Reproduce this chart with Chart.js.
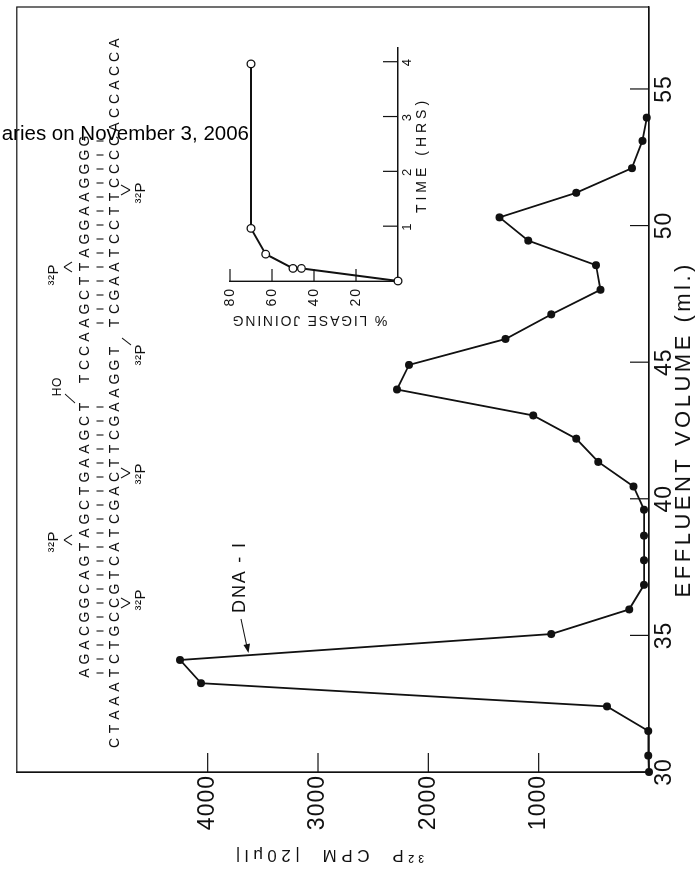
<!DOCTYPE html>
<html>
<head>
<meta charset="utf-8">
<script src="https://cdn.jsdelivr.net/npm/chart.js@4.4.0/dist/chart.umd.min.js"></script>
<style>
  html, body { margin: 0; padding: 0; background: #fff; }
  body { width: 698px; height: 873px; overflow: hidden; position: relative; }
  /* the whole figure is printed turned a quarter turn, so draw it upright and turn it */
  #turn { position: absolute; left: 0; top: 0; width: 873px; height: 698px;
          transform-origin: 0 0; transform: translate(0, 873px) rotate(-90deg); }
  #main { position: absolute; left: 0; top: 0; }
  #inset { position: absolute; left: 500px; top: 190px; }
  #stamp { position: absolute; top: 122.5px; right: 449px; white-space: nowrap;
           font: 20.5px/1 'Liberation Sans', Arial, sans-serif; color: #000; }
</style>
</head>
<body>
<div id="turn">
  <canvas id="main" width="873" height="698"></canvas>
  <canvas id="inset" width="340" height="260"></canvas>
</div>
<div id="stamp">aries on November 3, 2006</div>
<script>
// column profile
const volume = [30.0, 30.6, 31.5, 32.4, 33.25, 34.1, 35.05, 35.95, 36.85, 37.75, 38.65, 39.6,
                40.45, 41.35, 42.2, 43.05, 44.0, 44.9, 45.85, 46.75, 47.65, 48.55, 49.45, 50.3,
                51.2, 52.1, 53.1, 53.95];
const cpm = [0, 6, 6, 380, 4060, 4250, 885, 180, 45, 45, 45, 45,
             140, 460, 660, 1050, 2285, 2175, 1300, 885, 440, 480, 1095, 1355,
             660, 155, 60, 20];
const volumeTicks = [30, 35, 40, 45, 50, 55];
const cpmTicks = [1000, 2000, 3000, 4000];

// inset: ligase time course
const hours = [0, 0.23, 0.23, 0.49, 0.96, 3.96];
const joining = [0, 46, 50, 63, 70, 70];
const hourTicks = [1, 2, 3, 4];
const joiningTicks = [20, 40, 60, 80];

// duplex drawn over the plot
const topStrand = '     AGACGGCAGTAGCTGAAGCT TCCAAGCTTAGGAAGGGG';
const bottomStrand = 'CTAAATCTGCCGTCATCGACTTCGAAGGT TCGAATCCTTCCCCACCACCA';
const nick = [26, 27, 28];

const FONT = "'Liberation Sans', Arial, sans-serif";
Chart.defaults.font.family = FONT;
Chart.defaults.color = '#111';

function label(ctx, str, x, y, size, spacing, rot) {
  ctx.save();
  ctx.translate(x, y);
  if (rot) ctx.rotate(rot);
  ctx.font = size + 'px ' + FONT;
  ctx.letterSpacing = spacing + 'px';
  ctx.textAlign = 'center';
  ctx.textBaseline = 'middle';
  ctx.fillStyle = '#111';
  ctx.fillText(str, spacing / 2, 0);
  ctx.restore();
}

function seg(ctx, x1, y1, x2, y2) {
  ctx.beginPath();
  ctx.moveTo(x1, y1);
  ctx.lineTo(x2, y2);
  ctx.stroke();
}

// tick marks pointing into the plot, plus optional box
const inTicks = {
  id: 'inTicks',
  beforeDraw(chart, args, opts) {
    chart.ctx.letterSpacing = (opts.spacing || 0) + 'px';
  },
  afterDraw(chart, args, opts) {
    const { ctx, chartArea: a } = chart;
    const xs = chart.scales.x, ys = chart.scales.y;
    ctx.save();
    ctx.strokeStyle = '#111';
    ctx.lineWidth = 1.2;
    if (opts.frame) ctx.strokeRect(a.left, a.top, a.right - a.left, a.bottom - a.top);
    xs.ticks.forEach(t => {
      const p = xs.getPixelForValue(t.value);
      seg(ctx, p, a.bottom, p, a.bottom - opts.x);
    });
    ys.ticks.forEach(t => {
      const p = ys.getPixelForValue(t.value);
      seg(ctx, a.left, p, a.left + opts.y, p);
    });
    ctx.restore();
  }
};

function p32(ctx, u, v) {
  label(ctx, '³²P', u, v, 15, 0.5, 0);
}

const notes = {
  id: 'notes',
  afterDraw(chart) {
    const ctx = chart.ctx;
    ctx.save();
    label(ctx, 'EFFLUENT VOLUME (ml.)', 442, 684, 22, 3.5, 0);
    label(ctx, '³²P  CPM  |20μl|', 18, 330, 17, 4.5, -Math.PI / 2);

    // strands
    ctx.font = '14px ' + FONT;
    ctx.letterSpacing = '0px';
    ctx.textAlign = 'center';
    ctx.textBaseline = 'middle';
    ctx.fillStyle = '#111';
    ctx.strokeStyle = '#111';
    ctx.lineWidth = 1.1;
    for (let s = 0; s < bottomStrand.length; s++) {
      const u = 130 + s * 14;
      const a = topStrand[s] || ' ', b = bottomStrand[s];
      if (a !== ' ') ctx.fillText(a, u, 85);
      if (b !== ' ') ctx.fillText(b, u, 115);
      if (a !== ' ' && b !== ' ' && !nick.includes(s)) seg(ctx, u, 96.5, u, 103.5);
    }
    // labelled phosphates above
    [606, 333].forEach(u => {
      seg(ctx, u - 5, 72, u, 64);
      seg(ctx, u, 64, u + 5, 72);
    });
    p32(ctx, 598, 54);
    p32(ctx, 331, 54);
    label(ctx, 'HO', 486, 58, 12, 0.5, 0);
    seg(ctx, 470, 75, 479, 65);
    // labelled phosphates below
    [270, 400, 683].forEach(u => {
      seg(ctx, u - 5, 121, u, 130);
      seg(ctx, u, 130, u + 5, 121);
    });
    p32(ctx, 273, 141);
    p32(ctx, 399, 141);
    p32(ctx, 680, 141);
    seg(ctx, 535, 122, 528, 131);
    p32(ctx, 518, 141);

    // DNA - I marker
    label(ctx, 'DNA - I', 295, 240, 18, 1.8, 0);
    ctx.lineWidth = 1.1;
    seg(ctx, 254, 241, 226, 247);
    ctx.beginPath();
    ctx.moveTo(220, 248.5);
    ctx.lineTo(228, 243.5);
    ctx.lineTo(229.5, 250);
    ctx.closePath();
    ctx.fill();
    ctx.restore();
  }
};

const plain = v => String(v);

new Chart(document.getElementById('main'), {
  type: 'line',
  data: {
    datasets: [{
      data: volume.map((v, i) => ({ x: v, y: cpm[i] })),
      borderColor: '#111',
      borderWidth: 1.8,
      pointRadius: 4,
      pointBackgroundColor: '#111',
      pointBorderWidth: 0,
      tension: 0,
      clip: false
    }]
  },
  options: {
    responsive: false,
    animation: false,
    events: [],
    layout: { padding: { left: 0, right: 7, top: 11, bottom: 0 } },
    plugins: {
      legend: { display: false },
      tooltip: { enabled: false },
      inTicks: { x: 19, y: 19, frame: true, spacing: 1 }
    },
    scales: {
      x: {
        type: 'linear', min: 30, max: 58,
        afterBuildTicks: s => { s.ticks = volumeTicks.map(v => ({ value: v })); },
        afterFit: s => { s.height = 49; },
        grid: { display: false, drawTicks: false },
        border: { display: true, color: '#111', width: 1.2 },
        ticks: { padding: 2, font: { size: 23 }, maxRotation: 0, autoSkip: false, callback: plain }
      },
      y: {
        type: 'linear', min: 0, max: 5730,
        afterBuildTicks: s => { s.ticks = cpmTicks.map(v => ({ value: v })); },
        afterFit: s => { s.width = 101; },
        grid: { display: false, drawTicks: false },
        border: { display: true, color: '#111', width: 1.2 },
        ticks: { padding: 3, font: { size: 23 }, autoSkip: false, callback: plain }
      }
    }
  },
  plugins: [inTicks, notes]
});

const insetNotes = {
  id: 'insetNotes',
  afterDraw(chart) {
    const ctx = chart.ctx;
    label(ctx, '% LIGASE JOINING', 53, 120, 14, 1.8, -Math.PI / 2);
    label(ctx, 'TIME (HRS)', 216, 232, 14, 4, 0);
  }
};

new Chart(document.getElementById('inset'), {
  type: 'line',
  data: {
    datasets: [{
      data: hours.map((h, i) => ({ x: h, y: joining[i] })),
      borderColor: '#111',
      borderWidth: 2,
      pointRadius: 3.8,
      pointBackgroundColor: '#fff',
      pointBorderColor: '#111',
      pointBorderWidth: 1.3,
      tension: 0,
      clip: false
    }]
  },
  options: {
    responsive: false,
    animation: false,
    events: [],
    layout: { padding: { left: 0, right: 15, top: 40, bottom: 0 } },
    plugins: {
      legend: { display: false },
      tooltip: { enabled: false },
      inTicks: { x: 15, y: 12, frame: false, spacing: 2 }
    },
    scales: {
      x: {
        type: 'linear', min: 0, max: 4.25,
        afterBuildTicks: s => { s.ticks = hourTicks.map(v => ({ value: v })); },
        afterFit: s => { s.height = 52; },
        grid: { display: false, drawTicks: false },
        border: { display: true, color: '#111', width: 1.4 },
        ticks: { padding: 2, font: { size: 13 }, maxRotation: 0, autoSkip: false, callback: plain }
      },
      y: {
        type: 'linear', min: 0, max: 80,
        afterBuildTicks: s => { s.ticks = joiningTicks.map(v => ({ value: v })); },
        afterFit: s => { s.width = 92; },
        grid: { display: false, drawTicks: false },
        border: { display: true, color: '#111', width: 1.4 },
        ticks: { padding: 6, font: { size: 14 }, autoSkip: false, callback: plain }
      }
    }
  },
  plugins: [inTicks, insetNotes]
});
</script>
</body>
</html>
